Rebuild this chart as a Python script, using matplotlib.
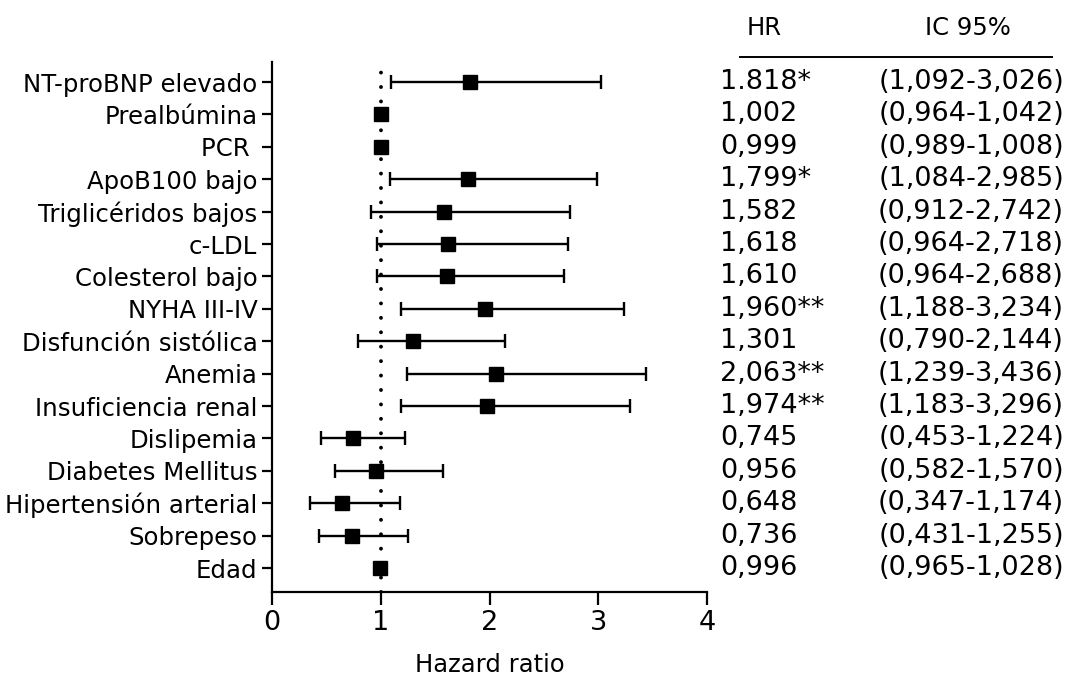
import numpy as np
import matplotlib
matplotlib.use("Agg")
import matplotlib.pyplot as plt
from matplotlib.transforms import blended_transform_factory

plt.rcParams["font.family"] = ["DejaVu Sans"]

# Variables of the Cox model, top to bottom
variables = [
    "NT-proBNP elevado", "Prealbúmina", "PCR ", "ApoB100 bajo",
    "Triglicéridos bajos", "c-LDL", "Colesterol bajo", "NYHA III-IV",
    "Disfunción sistólica", "Anemia", "Insuficiencia renal", "Dislipemia",
    "Diabetes Mellitus", "Hipertensión arterial", "Sobrepeso", "Edad",
]

# Hazard ratios and 95% confidence limits
hr = [1.818, 1.002, 0.999, 1.799, 1.582, 1.618, 1.610, 1.960,
      1.301, 2.063, 1.974, 0.745, 0.956, 0.648, 0.736, 0.996]
ci_low = [1.092, 0.964, 0.989, 1.084, 0.912, 0.964, 0.964, 1.188,
          0.790, 1.239, 1.183, 0.453, 0.582, 0.347, 0.431, 0.965]
ci_high = [3.026, 1.042, 1.008, 2.985, 2.742, 2.718, 2.688, 3.234,
           2.144, 3.436, 3.296, 1.224, 1.570, 1.174, 1.255, 1.028]

# Significance marks next to each hazard ratio
stars = ["*", "", "", "*", "", "", "", "**",
         "", "**", "**", "", "", "", "", ""]
# Decimal separator used when printing each hazard ratio
hr_sep = ["."] + [","] * 15

x_ticks = [0, 1, 2, 3, 4]


def fmt(v, sep=","):
    return f"{v:.3f}".replace(".", sep)


W, H = 1076, 680
fig = plt.figure(figsize=(W / 100, H / 100), dpi=100)
ax = fig.add_axes([272 / W, 1 - 592 / H, 435 / W, 530 / H])

n = len(variables)
ypos = np.arange(n)[::-1]
hr_a = np.asarray(hr)
lo_a = np.asarray(ci_low)
hi_a = np.asarray(ci_high)

# reference line at HR = 1
ax.axvline(1, color="black", lw=2.8, ls=(0, (0.01, 3.7)),
           dash_capstyle="round", zorder=1)

ax.errorbar(hr_a, ypos, xerr=[hr_a - lo_a, hi_a - hr_a], fmt="s",
            color="black", ms=9.5, capsize=5.2, elinewidth=1.7,
            capthick=1.7, zorder=3)

ax.set_xlim(0, 4)
ax.set_ylim(-0.74, n - 1 + 0.62)
ax.set_xticks(x_ticks)
ax.set_xticklabels([str(t) for t in x_ticks], fontsize=19.5)
ax.set_yticks(ypos)
ax.set_yticklabels(variables, fontsize=17.6)
ax.tick_params(axis="x", length=9, width=1.6, pad=4, direction="out")
ax.tick_params(axis="y", length=7.5, width=1.6, pad=3, direction="out")
ax.set_xlabel("Hazard ratio", fontsize=17.5, labelpad=12)

for side in ("top", "right"):
    ax.spines[side].set_visible(False)
for side in ("left", "bottom"):
    ax.spines[side].set_linewidth(1.6)

# table of hazard ratios and intervals at the right
tr = blended_transform_factory(fig.transFigure, ax.transData)
for y, v, s, sep, l, h in zip(ypos, hr, stars, hr_sep, ci_low, ci_high):
    ax.text(720 / W, y, fmt(v, sep) + s, transform=tr, ha="left",
            va="center", fontsize=19.5, clip_on=False)
    ax.text(1064 / W, y, f"({fmt(l)}-{fmt(h)})", transform=tr, ha="right",
            va="center", fontsize=19.5, clip_on=False)

fig.text(764 / W, 1 - 28 / H, "HR", ha="center", va="center", fontsize=17.5)
fig.text(968 / W, 1 - 28 / H, "IC 95%", ha="center", va="center", fontsize=17.5)
fig.add_artist(plt.Line2D([740 / W, 1052 / W], [1 - 57 / H, 1 - 57 / H],
                          transform=fig.transFigure, color="black", lw=1.4))

fig.savefig("out.png", dpi=100)
